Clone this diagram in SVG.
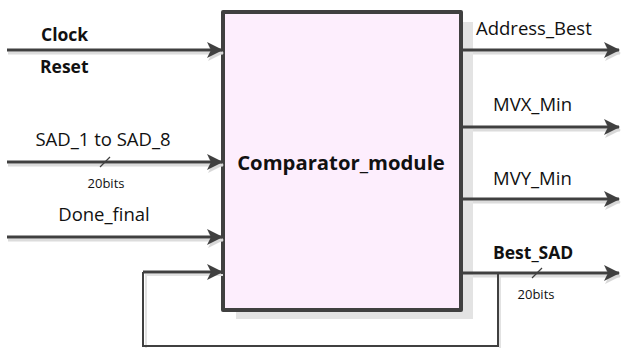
<svg xmlns="http://www.w3.org/2000/svg" width="623" height="348" viewBox="0 0 623 348">
  <defs>
    <marker id="arrow" viewBox="0 0 16 16" refX="15" refY="8" markerWidth="16" markerHeight="16" markerUnits="userSpaceOnUse" orient="auto">
      <path d="M0,0 L16,8 L0,16 L4,8 Z" fill="#404040"/>
    </marker>
    <marker id="arrow-shadow" viewBox="0 0 16 16" refX="15" refY="8" markerWidth="16" markerHeight="16" markerUnits="userSpaceOnUse" orient="auto">
      <path d="M0,0 L16,8 L0,16 L4,8 Z" fill="#d8d8d8"/>
    </marker>
  </defs>
  <style>
    .wire { fill: none; stroke: #404040; stroke-width: 3; }
    .thin { fill: none; stroke: #404040; stroke-width: 2; }
    .shade { fill: none; stroke: #dcdcdc; stroke-width: 3; }
    .shade-thin { fill: none; stroke: #e2e2e2; stroke-width: 2; }
    .lbl { font-family: "Open Sans", "Liberation Sans", sans-serif; font-size: 18.5px; fill: #111; }
    .bold { font-weight: bold; font-size: 17.5px; }
    .small { font-family: "Open Sans", "Liberation Sans", sans-serif; font-size: 13px; fill: #111; }
  </style>
  <rect width="623" height="348" fill="#ffffff"/>

  <!-- block with drop shadow -->
  <g id="comparator_module">
    <rect x="236" y="22" width="237" height="297" fill="#e3e3e3"/>
    <rect x="223" y="12" width="238" height="298" fill="#fdeefd" stroke="#404040" stroke-width="4" stroke-linejoin="round"/>
    <text x="341" y="170" class="lbl bold" style="font-size:20.3px" text-anchor="middle">Comparator_module</text>
  </g>

  <g id="connectors">
    <!-- shadows -->
    <path class="shade" d="M8,53 H223" marker-end="url(#arrow-shadow)"/>
    <path class="shade" d="M8,165 H223" marker-end="url(#arrow-shadow)"/>
    <path class="shade" d="M8,240 H223" marker-end="url(#arrow-shadow)"/>
    <path class="shade-thin" d="M146,349 V275 H223"/>
    <path class="shade-thin" d="M146,349 H500 V276"/>
    <path class="shade" d="M473,53 H620" marker-end="url(#arrow-shadow)"/>
    <path class="shade" d="M473,130 H620" marker-end="url(#arrow-shadow)"/>
    <path class="shade" d="M473,202 H620" marker-end="url(#arrow-shadow)"/>
    <path class="shade" d="M473,276 H620" marker-end="url(#arrow-shadow)"/>

    <!-- inputs -->
    <path class="wire" d="M7,50 H222" marker-end="url(#arrow)"/>
    <path class="wire" d="M7,162 H222" marker-end="url(#arrow)"/>
    <path class="wire" d="M7,237 H222" marker-end="url(#arrow)"/>
    <!-- feedback -->
    <path class="thin" d="M498,273 V346 H143 V272"/>
    <path class="wire" d="M143,272 H222" marker-end="url(#arrow)"/>
    <!-- outputs -->
    <path class="wire" d="M461,50 H619" marker-end="url(#arrow)"/>
    <path class="wire" d="M461,127 H619" marker-end="url(#arrow)"/>
    <path class="wire" d="M461,199 H619" marker-end="url(#arrow)"/>
    <path class="wire" d="M461,273 H619" marker-end="url(#arrow)"/>

    <!-- bus width ticks -->
    <line x1="100" y1="167" x2="110" y2="157" stroke="#404040" stroke-width="1.2"/>
    <line x1="532" y1="278" x2="542" y2="268" stroke="#404040" stroke-width="1.2"/>
  </g>

  <g id="labels">
    <text x="41" y="41" class="lbl bold">Clock</text>
    <text x="40" y="73" class="lbl bold">Reset</text>
    <text x="103" y="146" class="lbl" text-anchor="middle">SAD_1 to SAD_8</text>
    <text x="106" y="188" class="small" text-anchor="middle">20bits</text>
    <text x="104" y="221" class="lbl" text-anchor="middle">Done_final</text>
    <text x="476" y="35" class="lbl">Address_Best</text>
    <text x="493" y="111" class="lbl">MVX_Min</text>
    <text x="493" y="185" class="lbl">MVY_Min</text>
    <text x="493" y="259" class="lbl bold">Best_SAD</text>
    <text x="536" y="299" class="small" text-anchor="middle">20bits</text>
  </g>
</svg>
